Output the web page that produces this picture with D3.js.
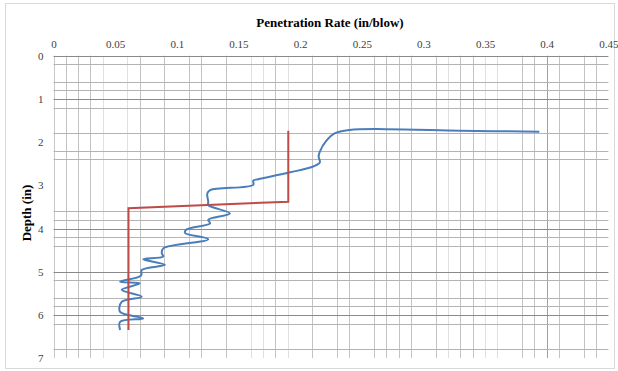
<!DOCTYPE html>
<html><head><meta charset="utf-8">
<script src="https://cdn.jsdelivr.net/npm/d3@7"></script>
<style>body{margin:0;background:#fff}svg{display:block}</style>
</head><body>
<svg id="c" width="618" height="371"></svg>
<script>
// ---- data ----
const xTicks = [0,0.05,0.1,0.15,0.2,0.25,0.3,0.35,0.4,0.45];
const yTicks = [0,1,2,3,4,5,6,7];
// visible gridlines
const xGridMinor = [0.01,0.02,0.03,0.07,0.09,0.11,0.12,0.14,0.18,0.21,0.23,0.24,0.26,0.27,0.28,0.29,0.31,0.33,0.34,0.38,0.39,0.41,0.43,0.44];
const xGridLight = [0.04,0.06,0.16,0.17,0.19,0.32,0.35,0.36];
const xGridMajor = [0.40];
const yGridMinor = [0.2,0.6,0.8,1.2,1.8,2.2,2.4,3.6,3.8,4.2,4.4,5.2,5.6,5.8,6.2,6.8];
const yGridMajor = [0,1,4,5,6];
// blue: penetration rate measured
const blueRate  = [0.394,0.33,0.27,0.24,0.228,0.221,0.216,0.215,0.216,0.211,0.192,0.166,0.162,0.162,0.127,0.1247,0.1255,0.1255,0.143,0.1255,0.127,0.108,0.1066,0.1255,0.089,0.0878,0.089,0.0728,0.0904,0.0715,0.071,0.054,0.070,0.0553,0.0715,0.0553,0.054,0.0728,0.054,0.054];
const blueDepth = [1.76,1.735,1.70,1.72,1.80,1.98,2.22,2.33,2.47,2.56,2.70,2.86,2.89,2.99,3.11,3.19,3.38,3.46,3.65,3.80,3.88,4.02,4.10,4.25,4.46,4.57,4.65,4.71,4.84,4.96,5.09,5.23,5.27,5.42,5.58,5.70,5.93,6.08,6.16,6.35];
// red: averaged rate
const redRate  = [0.1904,0.1904,0.0608,0.0608];
const redDepth = [1.736,3.38,3.53,6.35];

const svg = d3.select('#c');
const x = d3.scaleLinear().domain([0,0.45]).range([53.5,608.4]);
const y = d3.scaleLinear().domain([0,7]).range([55.7,358.1]);

// outer border
svg.append('rect').attr('x',5.5).attr('y',3.5).attr('width',609).attr('height',365)
  .attr('fill','#fff').attr('stroke','#d9d9d9').attr('stroke-width',1);

const g = svg.append('g');
const [y0,y1] = y.range(), [x0,x1] = x.range();
function vlines(arr,color){
  g.selectAll(null).data(arr).enter().append('line')
    .attr('x1',d=>Math.round(x(d))+0.5).attr('x2',d=>Math.round(x(d))+0.5)
    .attr('y1',y0).attr('y2',y1).attr('stroke',color).attr('stroke-width',1);
}
function hlines(arr,color){
  g.selectAll(null).data(arr).enter().append('line')
    .attr('y1',d=>Math.round(y(d))+0.5).attr('y2',d=>Math.round(y(d))+0.5)
    .attr('x1',x0).attr('x2',x1).attr('stroke',color).attr('stroke-width',1);
}
vlines(xGridLight,'#e0e0e0');
vlines(xGridMinor,'#c4c4c4');
vlines(xGridMajor,'#a0a0a0');
// left axis line
vlines([0],'#c8c8c8');
hlines(yGridMinor,'#b4b4b4');
hlines(yGridMajor,'#8a8a8a');

// axes labels
const xAxis = d3.axisTop(x).tickValues(xTicks).tickSize(0).tickPadding(8).tickFormat(d=>String(d));
const ax = svg.append('g').attr('transform',`translate(0,${y0})`).call(xAxis);
ax.select('.domain').remove();
ax.selectAll('text').attr('font-family','Liberation Serif, Times New Roman, serif').attr('font-size',11).attr('fill','#404040');

const yAxis = d3.axisLeft(y).tickValues(yTicks).tickSize(0).tickPadding(10).tickFormat(d=>String(d));
const ay = svg.append('g').attr('transform',`translate(${x0},0)`).call(yAxis);
ay.select('.domain').remove();
ay.selectAll('text').attr('font-family','Liberation Serif, Times New Roman, serif').attr('font-size',11).attr('fill','#404040');

svg.append('text').attr('x',330).attr('y',27).attr('text-anchor','middle')
  .attr('font-family','Liberation Serif, Times New Roman, serif').attr('font-weight','bold').attr('font-size',13)
  .attr('fill','#000').text('Penetration Rate (in/blow)');
svg.append('text').attr('transform','translate(31,213) rotate(-90)').attr('text-anchor','middle')
  .attr('font-family','Liberation Serif, Times New Roman, serif').attr('font-weight','bold').attr('font-size',13)
  .attr('fill','#000').text('Depth (in)');

// series
const blue = blueRate.map((v,i)=>[v,blueDepth[i]]);
const red = redRate.map((v,i)=>[v,redDepth[i]]);
const line = d3.line().x(d=>x(d[0])).y(d=>y(d[1]));
svg.append('path').datum(blue).attr('d',line.curve(d3.curveCatmullRom.alpha(0.5)))
  .attr('fill','none').attr('stroke','#4a7ebb').attr('stroke-width',2).attr('stroke-linejoin','round');
svg.append('path').datum(red).attr('d',d3.line().x(d=>x(d[0])).y(d=>y(d[1])))
  .attr('fill','none').attr('stroke','#be4b48').attr('stroke-width',2);
</script>
</body></html>
